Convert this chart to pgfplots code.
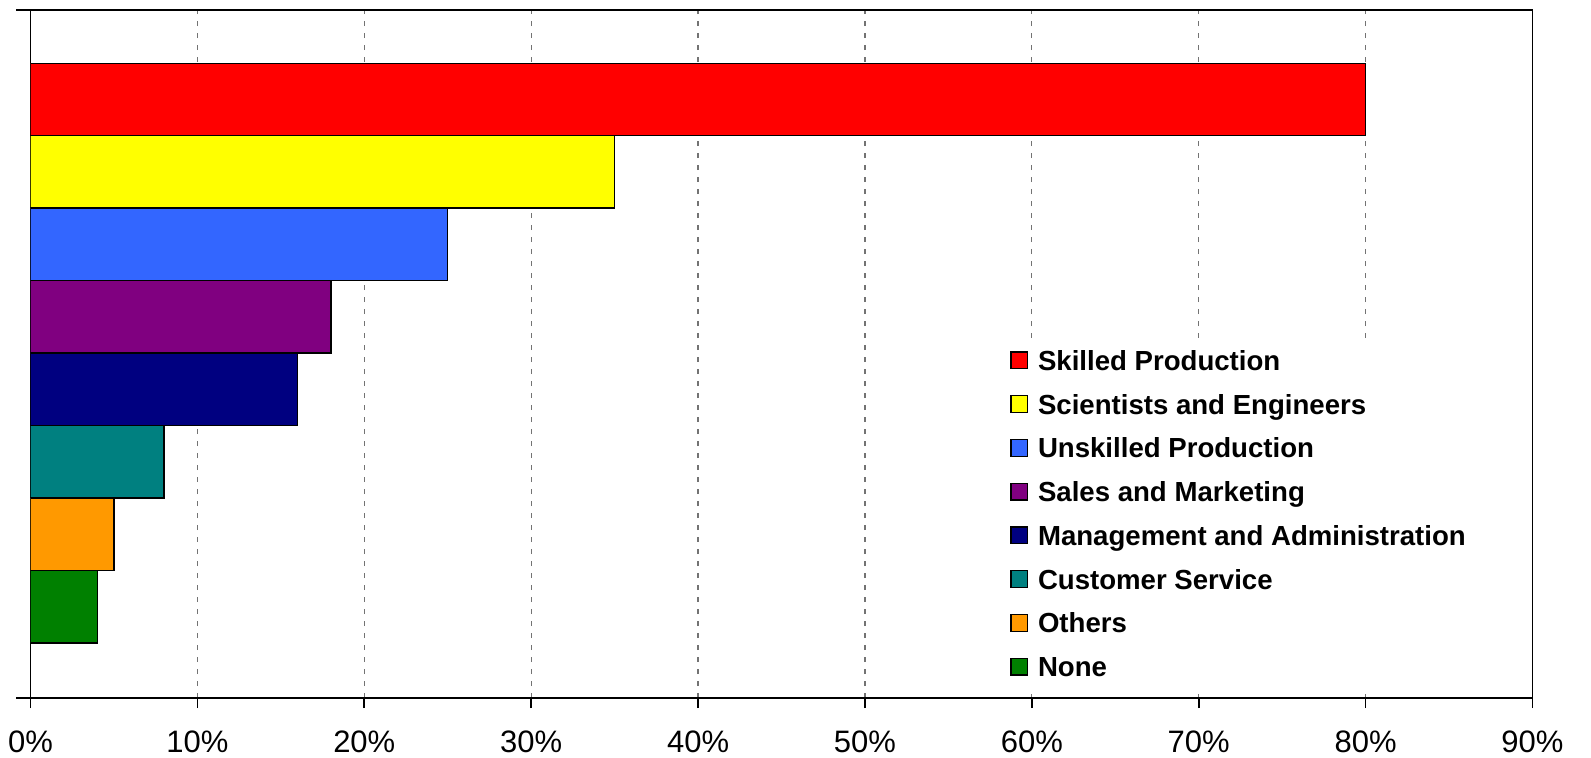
\documentclass[border=0pt]{standalone}
\usepackage{fontspec}
\setmainfont{Liberation Sans}
\usepackage{pgfplots}
\pgfplotsset{compat=1.18}
\definecolor{cRed}{HTML}{FF0000}
\definecolor{cYellow}{HTML}{FFFF00}
\definecolor{cBlue}{HTML}{3366FF}
\definecolor{cPurple}{HTML}{800080}
\definecolor{cNavy}{HTML}{000080}
\definecolor{cTeal}{HTML}{008080}
\definecolor{cOrange}{HTML}{FF9900}
\definecolor{cGreen}{HTML}{008000}
\pgfplotsset{
  b/.style={xbar, fill=#1, draw=black, line width=0.7pt, bar shift=0pt, bar width=1,
    legend image code/.code={\draw[fill=#1, draw=black, line width=0.6pt] (0pt,-2.8pt) rectangle (8.4pt,5.6pt);}},
}
\begin{document}
\begin{tikzpicture}
\begin{axis}[
  at={(15.25pt,29.5pt)}, anchor=south west,
  scale only axis, width=751pt, height=344pt,
  xmin=0, xmax=90, ymin=-0.259, ymax=9.235,
  xtick={0,10,...,90},
  xticklabels={0\%,10\%,20\%,30\%,40\%,50\%,60\%,70\%,80\%,90\%},
  tick pos=left, tick align=outside, major tick length=5pt,
  ytick=\empty,
  xmajorgrids,
  major grid style={draw=gray!90!black, dash pattern=on 2.6pt off 3.4pt, line width=0.6pt},
  axis line style={line width=0.8pt},
  tick style={line width=0.8pt, black},
  xticklabel style={font=\fontsize{15.5}{18}\selectfont, yshift=-8pt},
  legend cell align=left,
  legend style={at={(0.6488,0.5235)}, anchor=north west, draw=none, fill=white,
    inner xsep=2.5pt, inner ysep=1.6pt, row sep=0pt,
    font=\bfseries\fontsize{13.8}{16}\selectfont,
    nodes={text height=10.2pt, text depth=3pt, inner ysep=4.33pt, inner xsep=4.8pt}},
  after end axis/.code={
    \draw[line width=0.8pt] (rel axis cs:0,0) -- ++(-7.25pt,0);
    \draw[line width=0.8pt] (rel axis cs:0,1) -- ++(-7.25pt,0);
  },
]
\addplot[b=cRed] coordinates {(80,8)};
\addplot[b=cYellow] coordinates {(35,7)};
\addplot[b=cBlue] coordinates {(25,6)};
\addplot[b=cPurple] coordinates {(18,5)};
\addplot[b=cNavy] coordinates {(16,4)};
\addplot[b=cTeal] coordinates {(8,3)};
\addplot[b=cOrange] coordinates {(5,2)};
\addplot[b=cGreen] coordinates {(4,1)};
\legend{Skilled Production,Scientists and Engineers,Unskilled Production,Sales and Marketing,Management and Administration,Customer Service,Others,None}
\end{axis}
\pgfresetboundingbox
\path[use as bounding box] (0,0) rectangle (795.5pt,378.5pt);
\end{tikzpicture}
\end{document}
